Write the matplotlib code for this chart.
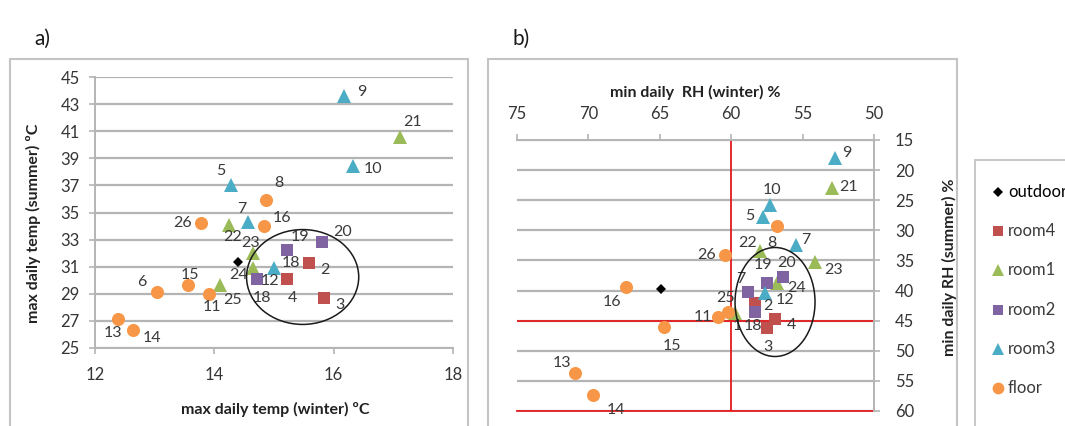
import matplotlib
matplotlib.use("Agg")
import matplotlib.pyplot as plt
from matplotlib.patches import Ellipse, Rectangle
from matplotlib.lines import Line2D

plt.rcParams['font.family'] = ['Lato', 'DejaVu Sans']

W, H = 1065, 426

SERIES = ["outdoor", "room4", "room1", "room2", "room3", "floor"]

# ---- a) max daily temperature: winter (x) vs summer (y), degC ----
outdoor_a_x = [14.40]
outdoor_a_y = [31.35]
room4_a_x = [15.58, 15.22, 15.84]
room4_a_y = [31.27, 30.09, 28.69]
room1_a_x = [17.11, 14.25, 14.65, 14.65, 14.09]
room1_a_y = [40.57, 34.08, 32.00, 30.90, 29.65]
room2_a_x = [15.22, 15.80, 14.71]
room2_a_y = [32.23, 32.82, 30.09]
room3_a_x = [16.17, 16.32, 14.28, 14.56, 15.00]
room3_a_y = [43.60, 38.43, 37.03, 34.30, 30.90]
floor_a_x = [14.86, 14.83, 13.78, 13.04, 13.56, 13.91, 12.39, 12.64]
floor_a_y = [35.92, 34.00, 34.22, 29.13, 29.65, 28.99, 27.14, 26.33]

# point labels: (series, point index, text)
labels_a = [
    ("room4", 0, "2"), ("room4", 1, "4"), ("room4", 2, "3"),
    ("room1", 0, "21"), ("room1", 1, "22"), ("room1", 2, "23"),
    ("room1", 3, "24"), ("room1", 4, "25"),
    ("room2", 0, "19"), ("room2", 1, "20"), ("room2", 2, "18"),
    ("room3", 0, "9"), ("room3", 1, "10"), ("room3", 2, "5"),
    ("room3", 3, "7"), ("room3", 4, "12"), ("room3", 4, "18"),
    ("floor", 0, "8"), ("floor", 1, "16"), ("floor", 2, "26"),
    ("floor", 3, "6"), ("floor", 4, "15"), ("floor", 5, "11"),
    ("floor", 6, "13"), ("floor", 7, "14"),
]

# ---- b) min daily relative humidity: winter (x) vs summer (y), % ----
outdoor_b_x = [64.92]
outdoor_b_y = [39.8]
room4_b_x = [58.33, 56.93, 57.49]
room4_b_y = [42.1, 44.7, 46.2]
room1_b_x = [52.94, 57.98, 54.13, 56.79, 59.73]
room1_b_y = [23.0, 33.4, 35.2, 38.8, 43.7]
room2_b_x = [57.49, 56.37, 58.82, 58.33]
room2_b_y = [38.8, 37.8, 40.2, 43.5]
room3_b_x = [52.73, 57.28, 57.77, 55.46, 57.63]
room3_b_y = [17.99, 25.8, 27.8, 32.4, 40.4]
floor_b_x = [56.79, 60.44, 67.37, 64.71, 60.92, 60.22, 70.94, 69.68]
floor_b_y = [29.3, 34.1, 39.4, 46.1, 44.4, 43.6, 53.7, 57.4]

labels_b = [
    ("room4", 0, "2"), ("room4", 1, "4"), ("room4", 2, "3"),
    ("room1", 0, "21"), ("room1", 1, "22"), ("room1", 2, "23"),
    ("room1", 3, "24"), ("room1", 4, "25"), ("room1", 4, "1"),
    ("room2", 0, "19"), ("room2", 1, "20"), ("room2", 2, "7"),
    ("room2", 3, "18"),
    ("room3", 0, "9"), ("room3", 1, "10"), ("room3", 2, "5"),
    ("room3", 3, "7"), ("room3", 4, "12"),
    ("floor", 0, "8"), ("floor", 1, "26"), ("floor", 2, "16"),
    ("floor", 3, "15"), ("floor", 4, "11"), ("floor", 6, "13"),
    ("floor", 7, "14"),
]

# label offsets in pixels, in the same order as the label lists
offsets_a = [
    (16, -7), (5, -19), (16, -7),
    (13, 15), (3, -12), (-3, 10), (-15, -7), (13, -15),
    (13, 13), (21, 10), (5, -19),
    (18, 4), (20, -3), (-10, 14), (-6, 13), (-4, -13), (17, 5),
    (13, 17), (18, 8), (-19, 0), (-15, 10), (2, 10), (3, -13),
    (-5, -14), (19, -8),
]
offsets_b = [
    (13, -3), (16, -6), (1, -19),
    (16, 1), (-12, 8), (18, -8), (20, -5), (-10, 15), (2, -13),
    (-4, 18), (4, 14), (-7, 13), (-2, -14),
    (12, 5), (2, 15), (-13, 1), (10, 5), (20, -7),
    (-5, -17), (-18, 0), (-14, -15), (8, -19), (-15, 0), (-13, 10),
    (23, -15),
]

COLORS = {"outdoor": "#000000", "room4": "#C0504D", "room1": "#9BBB59",
          "room2": "#8064A2", "room3": "#4BACC6", "floor": "#F79646"}
MARKERS = {"outdoor": "D", "room4": "s", "room1": "^", "room2": "s",
           "room3": "^", "floor": "o"}
SIZES = {"outdoor": 5.2, "room4": 8.6, "room1": 9.8, "room2": 8.6,
         "room3": 9.8, "floor": 9.4}

GRID = "#b4b4b4"
TICK_COLOR = "#353535"
LABEL_COLOR = "#3a3a3a"
TITLE_COLOR = "#222222"
RED = "#e3191c"

data_a = {
    "outdoor": (outdoor_a_x, outdoor_a_y), "room4": (room4_a_x, room4_a_y),
    "room1": (room1_a_x, room1_a_y), "room2": (room2_a_x, room2_a_y),
    "room3": (room3_a_x, room3_a_y), "floor": (floor_a_x, floor_a_y),
}
data_b = {
    "outdoor": (outdoor_b_x, outdoor_b_y), "room4": (room4_b_x, room4_b_y),
    "room1": (room1_b_x, room1_b_y), "room2": (room2_b_x, room2_b_y),
    "room3": (room3_b_x, room3_b_y), "floor": (floor_b_x, floor_b_y),
}


def fx(px):
    return px / W


def fy(py):
    return 1 - py / H


def draw_points(ax, data, labels, offsets):
    for name in SERIES:
        xs, ys = data[name]
        ax.plot(xs, ys, linestyle="none", marker=MARKERS[name],
                ms=SIZES[name], color=COLORS[name], mew=0, zorder=3,
                clip_on=False)
    for (name, i, text), (dx, dy) in zip(labels, offsets):
        xs, ys = data[name]
        ax.annotate(text, (xs[i], ys[i]), xytext=(dx, dy),
                    textcoords="offset pixels", ha="center", va="center",
                    fontsize=11.5, color=LABEL_COLOR, zorder=4)


fig = plt.figure(figsize=(W / 100, H / 100), dpi=100)

# panel frames
for left, right in [(10, 468), (488, 957)]:
    fig.add_artist(Rectangle((fx(left), fy(440)), fx(right) - fx(left),
                             fy(59) - fy(440), transform=fig.transFigure,
                             fill=False, edgecolor="#c4c4c4", lw=1.5))
fig.add_artist(Rectangle((fx(975), fy(440)), fx(1120) - fx(975),
                         fy(160) - fy(440), transform=fig.transFigure,
                         fill=False, edgecolor="#c4c4c4", lw=1.3))

fig.text(fx(42), fy(39), "a)", fontsize=15, ha="center", va="center",
         color="#1a1a1a")
fig.text(fx(521), fy(39), "b)", fontsize=15, ha="center", va="center",
         color="#1a1a1a")

# ---- panel a ----
axA = fig.add_axes([fx(95), fy(348), fx(453) - fx(95), fy(77) - fy(348)])
axA.set_xlim(12, 18)
axA.set_ylim(25, 45)
axA.set_xticks([12, 14, 16, 18])
axA.set_yticks(range(25, 46, 2))
axA.grid(axis="y", color=GRID, lw=1.6)
axA.set_axisbelow(True)
for s in ["top", "right"]:
    axA.spines[s].set_visible(False)
for s in ["left", "bottom"]:
    axA.spines[s].set_color(GRID)
    axA.spines[s].set_linewidth(1.4)
axA.tick_params(axis="both", colors=GRID, labelcolor=TICK_COLOR,
                labelsize=12, length=4, width=1.2)
axA.tick_params(axis="x", pad=10)
axA.tick_params(axis="y", pad=7)
axA.set_xlabel("max daily temp (winter) \u00baC", fontsize=11.5,
               fontweight="bold", color=TITLE_COLOR)
axA.xaxis.set_label_coords(0.503, -0.2)
axA.set_ylabel("max daily temp (summer) \u00baC", fontsize=11.5,
               fontweight="bold", color=TITLE_COLOR)
axA.yaxis.set_label_coords(-0.15, 0.46)

draw_points(axA, data_a, labels_a, offsets_a)
axA.add_patch(Ellipse((15.48, 30.24), 1.88, 7.0, fill=False,
                      edgecolor="#1a1a1a", lw=1.1, zorder=5))

# ---- panel b ----
axB = fig.add_axes([fx(517), fy(411), fx(874) - fx(517), fy(140) - fy(411)])
axB.set_xlim(75, 50)
axB.set_ylim(60, 15)
axB.set_xticks(range(75, 49, -5))
axB.set_yticks(range(15, 61, 5))
axB.xaxis.tick_top()
axB.xaxis.set_label_position("top")
axB.yaxis.tick_right()
axB.yaxis.set_label_position("right")
axB.grid(axis="y", color=GRID, lw=1.6)
axB.set_axisbelow(True)
for s in ["left", "bottom"]:
    axB.spines[s].set_visible(False)
for s in ["top", "right"]:
    axB.spines[s].set_color(GRID)
    axB.spines[s].set_linewidth(1.4)
axB.tick_params(axis="both", colors=GRID, labelcolor=TICK_COLOR,
                labelsize=12, length=4, width=1.2)
axB.tick_params(axis="x", pad=9)
axB.tick_params(axis="y", pad=11)
axB.set_xlabel("min daily  RH (winter) %", fontsize=11.5, fontweight="bold",
               color=TITLE_COLOR)
axB.xaxis.set_label_coords(0.5, 1.16)
axB.set_ylabel("min daily RH (summer) %", fontsize=11.5, fontweight="bold",
               color=TITLE_COLOR)
axB.yaxis.set_label_coords(1.19, 0.53)

# reference lines
axB.axvline(60, color=RED, lw=1.3, zorder=2)
axB.axhline(45, color=RED, lw=1.3, zorder=2)
axB.axhline(60, color=RED, lw=1.3, zorder=2, clip_on=False)

draw_points(axB, data_b, labels_b, offsets_b)
axB.add_patch(Ellipse((56.93, 41.9), 5.6, 18.1, fill=False,
                      edgecolor="#1a1a1a", lw=1.1, zorder=5))

# ---- legend ----
for k, name in enumerate(SERIES):
    y = fy(192 + 39.2 * k)
    fig.add_artist(Line2D([fx(998)], [y], transform=fig.transFigure,
                          linestyle="none", marker=MARKERS[name],
                          ms=SIZES[name] * 0.9, color=COLORS[name], mew=0))
    fig.text(fx(1008), y, name, fontsize=12, ha="left", va="center",
             color="#000000" if name == "outdoor" else LABEL_COLOR)

fig.savefig("out.png", dpi=100)
